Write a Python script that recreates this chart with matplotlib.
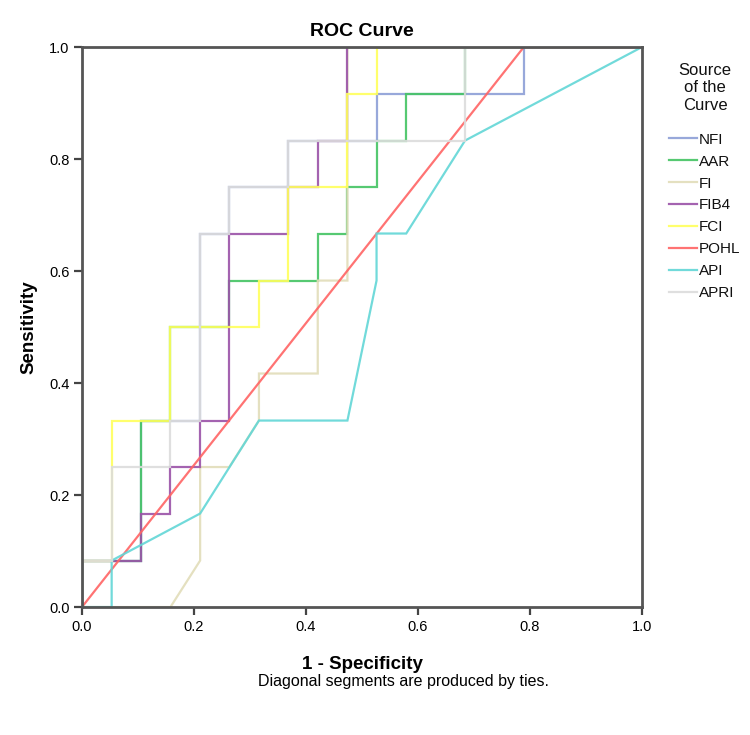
import matplotlib
matplotlib.use("Agg")
import matplotlib.pyplot as plt

# 1 - Specificity (x) and Sensitivity (y) for each curve
nfi_x = [0, 0, .105, .105, .211, .211, .263, .263, .368, .368, .526, .526, .789, .789, 1]
nfi_y = [0, .083, .083, .333, .333, .667, .667, .75, .75, .833, .833, .917, .917, 1, 1]

aar_x = [0, 0, .105, .105, .158, .158, .263, .263, .421, .421, .474, .474, .526, .526, .579, .579, .684, .684, 1]
aar_y = [0, .083, .083, .333, .333, .5, .5, .583, .583, .667, .667, .75, .75, .833, .833, .917, .917, 1, 1]

fi_x = [0, .158, .211, .211, .263, .316, .316, .421, .421, .474, .474, 1]
fi_y = [0, 0, .083, .25, .25, .333, .417, .417, .583, .583, 1, 1]

fib4_x = [0, 0, .105, .105, .158, .158, .211, .211, .263, .263, .368, .368, .421, .421, .474, .474, 1]
fib4_y = [0, .083, .083, .167, .167, .25, .25, .333, .333, .667, .667, .75, .75, .833, .833, 1, 1]

fci_x = [0, 0, .053, .053, .158, .158, .316, .316, .368, .368, .474, .474, .526, .526, 1]
fci_y = [0, .083, .083, .333, .333, .5, .5, .583, .583, .75, .75, .917, .917, 1, 1]

pohl_x = [0, .789, 1]
pohl_y = [0, 1, 1]

api_x = [0, .053, .053, .211, .316, .474, .526, .526, .579, .684, 1]
api_y = [0, 0, .083, .167, .333, .333, .583, .667, .667, .833, 1]

apri_x = [0, 0, .053, .053, .158, .158, .211, .211, .263, .263, .368, .368, .684, .684, 1]
apri_y = [0, .083, .083, .25, .25, .333, .333, .667, .667, .75, .75, .833, .833, 1, 1]

labels = ["NFI", "AAR", "FI", "FIB4", "FCI", "POHL", "API", "APRI"]
colors = ["#8d9fd6", "#44c463", "#e2ddb9", "#9a52a8", "#ffff5c", "#ff6464", "#62d6d6", "#dcdcdc"]
curves = [(nfi_x, nfi_y), (aar_x, aar_y), (fi_x, fi_y), (fib4_x, fib4_y),
          (fci_x, fci_y), (pohl_x, pohl_y), (api_x, api_y), (apri_x, apri_y)]

plt.rcParams['font.family'] = ['Liberation Sans', 'DejaVu Sans']

fig = plt.figure(figsize=(7.5, 7.35), dpi=100)
ax = fig.add_axes([0.1093, 0.1741, 0.7467, 0.7619])

handles = []
for (xs, ys), c, lab in zip(curves, colors, labels):
    h, = ax.plot(xs, ys, color=c, lw=1.6, label=lab, alpha=0.9, solid_joinstyle='miter')
    handles.append(h)

ax.set_xlim(0, 1)
ax.set_ylim(0, 1)
ax.set_xticks([0, .2, .4, .6, .8, 1.0])
ax.set_yticks([0, .2, .4, .6, .8, 1.0])
ax.set_xticklabels(["0.0", "0.2", "0.4", "0.6", "0.8", "1.0"], fontsize=10.5)
ax.set_yticklabels(["0.0", "0.2", "0.4", "0.6", "0.8", "1.0"], fontsize=10.5)
ax.tick_params(direction='out', length=6, width=1.6, color='#444444', pad=3)
for s in ax.spines.values():
    s.set_linewidth(2)
    s.set_color('#555555')

ax.set_title("ROC Curve", fontsize=14, fontweight='bold', pad=8)
ax.set_xlabel("1 - Specificity", fontsize=13.5, fontweight='bold', labelpad=16)
ax.set_ylabel("Sensitivity", fontsize=13.5, fontweight='bold', labelpad=8)

fig.text(0.344, 0.073, "Diagonal segments are produced by ties.", fontsize=11.5, ha='left', va='center')

# legend title as separate centered text
fig.text(0.94, 1 - 88 / 735, "Source\nof the\nCurve", fontsize=12, ha='center', va='center',
         multialignment='center', linespacing=1.2, color='#111111')

leg = fig.legend(handles=handles, labels=labels, loc='upper left', bbox_to_anchor=(0.882, 1 - 125 / 735),
                 frameon=False, fontsize=11,
                 handlelength=1.8, handletextpad=0.12, labelspacing=0.52, borderpad=0.0)
for t in leg.get_texts():
    t.set_color('#111111')

fig.savefig("out.png", dpi=100, facecolor='white')
